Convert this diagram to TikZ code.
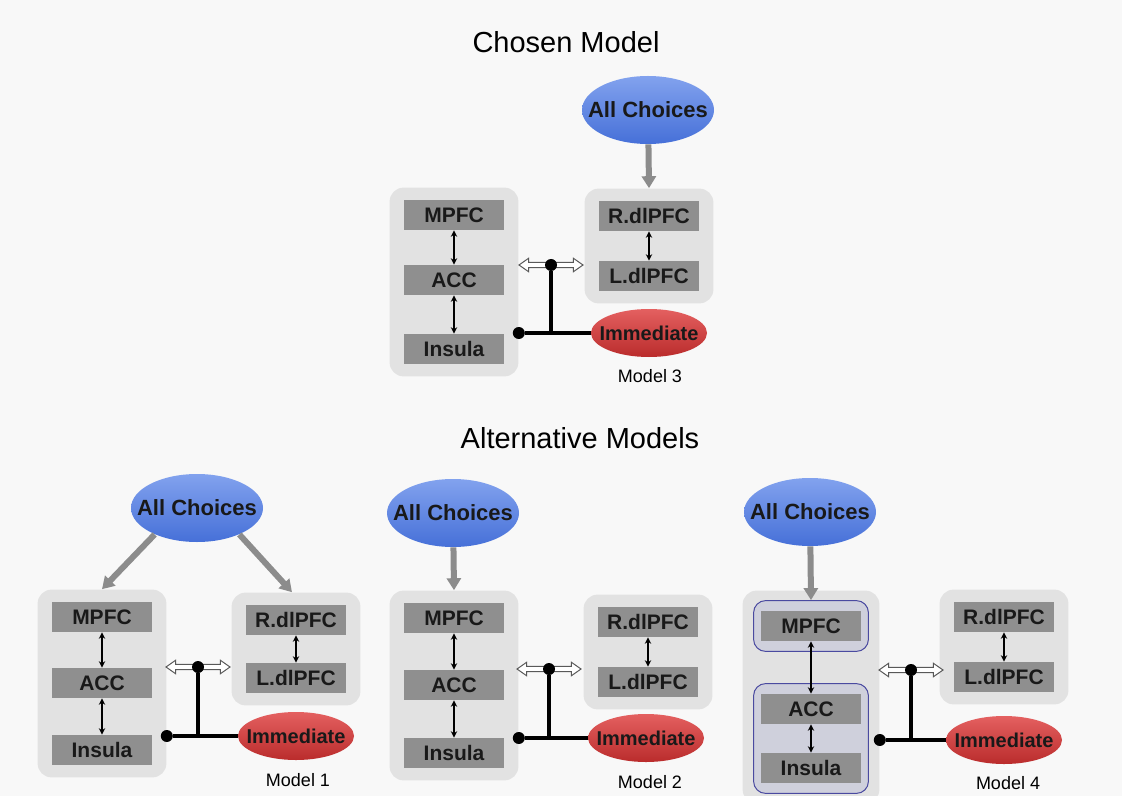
\documentclass[tikz,border=0pt]{standalone}
\usepackage{fontspec}
\setmainfont{Liberation Sans}
\usetikzlibrary{shapes.geometric,shapes.arrows,arrows.meta,fit,backgrounds}

\definecolor{paper}{HTML}{F8F8F8}
\definecolor{grpfill}{HTML}{E2E2E2}
\definecolor{regfill}{HTML}{8F8F8F}
\definecolor{feedgray}{HTML}{8C8C8C}
\definecolor{subfill}{HTML}{CFD0DC}
\definecolor{subline}{HTML}{4A4AA0}
\definecolor{choicetop}{HTML}{82A2EE}
\definecolor{choicebot}{HTML}{4670D8}
\definecolor{immtop}{HTML}{E46060}
\definecolor{immbot}{HTML}{BA2C2C}

% text that does not widen its ellipse
\newcommand{\snug}[1]{\makebox[0pt]{#1}}

\tikzset{
  region/.style={fill=regfill,minimum width=50pt,minimum height=15pt,inner sep=0pt,
    font=\bfseries\fontsize{10.5pt}{12pt}\selectfont,text=black!90},
  grp/.style={fill=grpfill,rounded corners=7pt,inner xsep=7pt,inner ysep=6pt},
  subgrp/.style={fill=subfill,draw=subline,line width=0.5pt,rounded corners=6pt,
    inner xsep=3.5pt,inner ysep=5pt},
  choices/.style={ellipse,minimum width=66pt,minimum height=34pt,inner sep=0pt,
    top color=choicetop,bottom color=choicebot,
    font=\bfseries\fontsize{11pt}{13pt}\selectfont,text=black!90},
  immed/.style={ellipse,minimum width=58pt,minimum height=24pt,inner sep=0pt,
    top color=immtop,bottom color=immbot,
    font=\bfseries\fontsize{10pt}{12pt}\selectfont,text=black!90},
  feed/.style={draw=feedgray,line width=3pt,-{Triangle[width=7pt,length=6pt]}},
  link/.style={line width=0.75pt,{Stealth[length=3.2pt,width=3.2pt]}-{Stealth[length=3.2pt,width=3.2pt]}},
  bus/.style={line width=2pt},
  junction/.style={circle,fill=black,inner sep=0pt,minimum size=6pt},
  hollow/.style={double arrow,draw=gray!70!black,fill=white,line width=0.5pt,
    inner sep=1.1pt,minimum height=32pt,double arrow head extend=2pt,
    double arrow tip angle=70},
  mlabel/.style={font=\fontsize{9pt}{11pt}\selectfont},
  heading/.style={font=\fontsize{14.5pt}{17pt}\selectfont}
}

\begin{document}
\begin{tikzpicture}[x=0.5pt,y=-0.5pt]
  \begin{scope}[on background layer]
    \fill[paper] (0,0) rectangle (1122,796);
  \end{scope}
  \useasboundingbox (0,0) rectangle (1122,796);

  \node[heading] (chosen) at (566,42) {Chosen Model};
  \node[heading] (alter) at (580,438) {Alternative Models};

  % Model 3
  \node[choices] (c3) at (648,110) {\snug{All Choices}};
  \node[region] (mpfc3) at (454,215) {MPFC};
  \node[region] (acc3) at (454,280) {ACC};
  \node[region] (ins3) at (454,349) {Insula};
  \node[region] (rdl3) at (649,216) {R.dlPFC};
  \node[region] (ldl3) at (649,276) {L.dlPFC};
  \begin{scope}[on background layer]
    \node[grp,fit=(mpfc3)(ins3)] (l3) {};
    \node[grp,fit=(rdl3)(ldl3)] (r3) {};
  \end{scope}
  \node[immed] (imm3) at (649,333) {\snug{Immediate}};
  \node[mlabel] (m3) at (650,376) {Model 3};
  \draw[link] (mpfc3) -- (acc3);
  \draw[link] (acc3) -- (ins3);
  \draw[link] (rdl3) -- (ldl3);
  \draw[feed] (c3) -- (r3.north);
  \node[hollow] (h3) at (551,265) {};
  \node[junction] (ja3) at (h3) {};
  \node[junction] (jb3) at (l3.east |- imm3) {};
  \draw[bus] (ja3) -- (ja3 |- imm3.west);
  \draw[bus] (jb3) -- (imm3.west);

  % Model 1
  \node[choices] (c1) at (197,508) {\snug{All Choices}};
  \node[region] (mpfc1) at (102,617) {MPFC};
  \node[region] (acc1) at (102,683) {ACC};
  \node[region] (ins1) at (102,750) {Insula};
  \node[region] (rdl1) at (296,620) {R.dlPFC};
  \node[region] (ldl1) at (296,678) {L.dlPFC};
  \begin{scope}[on background layer]
    \node[grp,fit=(mpfc1)(ins1)] (l1) {};
    \node[grp,fit=(rdl1)(ldl1)] (r1) {};
  \end{scope}
  \node[immed] (imm1) at (296,736) {\snug{Immediate}};
  \node[mlabel] (m1) at (298,780) {Model 1};
  \draw[link] (mpfc1) -- (acc1);
  \draw[link] (acc1) -- (ins1);
  \draw[link] (rdl1) -- (ldl1);
  \draw[feed] (c1.212) -- (l1.north);
  \draw[feed] (c1.328) -- ([xshift=-2pt]r1.north);
  \node[hollow] (h1) at (198,667) {};
  \node[junction] (ja1) at (h1) {};
  \node[junction] (jb1) at (l1.east |- imm1) {};
  \draw[bus] (ja1) -- (ja1 |- imm1.west);
  \draw[bus] (jb1) -- (imm1.west);

  % Model 2
  \node[choices] (c2) at (453,513) {\snug{All Choices}};
  \node[region] (mpfc2) at (454,618) {MPFC};
  \node[region] (acc2) at (454,685) {ACC};
  \node[region] (ins2) at (454,753) {Insula};
  \node[region] (rdl2) at (648,622) {R.dlPFC};
  \node[region] (ldl2) at (648,682) {L.dlPFC};
  \begin{scope}[on background layer]
    \node[grp,fit=(mpfc2)(ins2)] (l2) {};
    \node[grp,fit=(rdl2)(ldl2)] (r2) {};
  \end{scope}
  \node[immed] (imm2) at (646,738) {\snug{Immediate}};
  \node[mlabel] (m2) at (650,782) {Model 2};
  \draw[link] (mpfc2) -- (acc2);
  \draw[link] (acc2) -- (ins2);
  \draw[link] (rdl2) -- (ldl2);
  \draw[feed] (c2) -- (l2.north);
  \node[hollow] (h2) at (549,669) {};
  \node[junction] (ja2) at (h2) {};
  \node[junction] (jb2) at (l2.east |- imm2) {};
  \draw[bus] (ja2) -- (ja2 |- imm2.west);
  \draw[bus] (jb2) -- (imm2.west);

  % Model 4
  \node[choices] (c4) at (810,512) {\snug{All Choices}};
  \node[region] (mpfc4) at (811,626) {MPFC};
  \node[region] (acc4) at (811,709) {ACC};
  \node[region] (ins4) at (811,768) {Insula};
  \node[region] (rdl4) at (1004,617) {R.dlPFC};
  \node[region] (ldl4) at (1004,677) {L.dlPFC};
  \begin{scope}[on background layer]
    \node[grp,inner xsep=9pt,inner ysep=10pt,fit=(mpfc4)(ins4)] (l4) {};
    \node[subgrp,fit=(mpfc4)] (pf4) {};
    \node[subgrp,fit=(acc4)(ins4)] (ai4) {};
    \node[grp,fit=(rdl4)(ldl4)] (r4) {};
  \end{scope}
  \node[immed] (imm4) at (1004,740) {\snug{Immediate}};
  \node[mlabel] (m4) at (1008,783) {Model 4};
  \draw[link] (mpfc4) -- (acc4);
  \draw[link] (acc4) -- (ins4);
  \draw[link] (rdl4) -- (ldl4);
  \draw[feed] (c4) -- (pf4.north);
  \node[hollow] (h4) at (911,670) {};
  \node[junction] (ja4) at (h4) {};
  \node[junction] (jb4) at (l4.east |- imm4) {};
  \draw[bus] (ja4) -- (ja4 |- imm4.west);
  \draw[bus] (jb4) -- (imm4.west);
\end{tikzpicture}
\end{document}
